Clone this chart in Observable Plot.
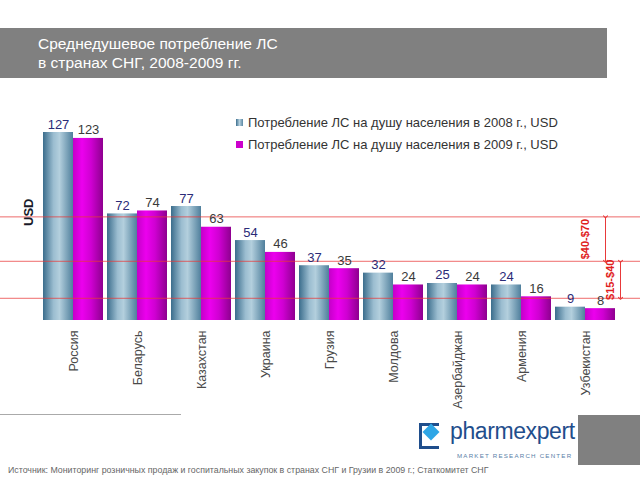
<!DOCTYPE html>
<html><head><meta charset="utf-8">
<script src="https://cdn.jsdelivr.net/npm/d3@7"></script>
<script src="https://cdn.jsdelivr.net/npm/@observablehq/plot@0.6"></script>
<style>
body{margin:0;background:#fff;font-family:"Liberation Sans",Arial,sans-serif;}
#page{position:relative;width:640px;height:480px;overflow:hidden;}
.abs{position:absolute;}
#header{left:0;top:28px;width:607px;height:50px;background:#808080;color:#fff;font-size:15.5px;line-height:19px;padding:6px 0 0 38px;box-sizing:border-box;}
#chart{left:0;top:90px;}
.leg{font-size:13px;color:#333;white-space:nowrap;}
.sw{display:inline-block;width:7px;height:7px;margin-right:5px;vertical-align:1px;}
</style></head>
<body><div id="page">
<div id="header" class="abs">Среднедушевое потребление ЛС<br>в странах СНГ, 2008-2009 гг.</div>
<div id="chart" class="abs"></div>
<div class="abs leg" style="left:236px;top:115px;"><span class="sw" style="background:linear-gradient(90deg,#3d6f8e,#b5d0de,#5a88a4)"></span>Потребление ЛС на душу населения в 2008 г., USD</div>
<div class="abs leg" style="left:236px;top:137px;"><span class="sw" style="background:#cc00cc"></span>Потребление ЛС на душу населения в 2009 г., USD</div>
<div class="abs" style="left:19px;top:206px;width:20px;height:20px;font-size:13px;font-weight:bold;color:#1a1a2a;transform:rotate(-90deg);transform-origin:10px 10px;line-height:20px;">USD</div>
<div class="abs" style="left:0;top:414px;width:181px;height:1px;background:#aaa;"></div>
<div class="abs" style="left:578px;top:415px;width:62px;height:50px;background:#808080;"></div>
<div class="abs" style="left:419px;top:423px;width:17px;height:20px;border:3px solid #1f4e8c;border-right:none;"></div>
<div class="abs" style="left:425px;top:426px;width:12px;height:12px;background:#2ea6e6;transform:rotate(45deg);"></div>
<div class="abs" style="left:450px;top:418px;font-size:23px;color:#1f4e8c;letter-spacing:-0.4px;">pharmexpert</div>
<div class="abs" style="left:457px;top:452px;font-size:6.2px;color:#5a7fa8;letter-spacing:1.2px;white-space:nowrap;">MARKET RESEARCH CENTER</div>
<div class="abs" style="left:8px;top:465px;font-size:8.8px;color:#666;white-space:nowrap;">Источник: Мониторинг розничных продаж и госпитальных закупок в странах СНГ и Грузии в 2009 г.; Статкомитет СНГ</div>
</div>
<script>
const countries = ["Россия","Беларусь","Казахстан","Украина","Грузия","Молдова","Азербайджан","Армения","Узбекистан"];
const v2008 = [127,72,77,54,37,32,25,24,9];
const v2009 = [123,74,63,46,35,24,24,16,8];
const refLines = [70,40,15];
const ranges = [
  {lo:40, hi:70, label:"$40-$70"},
  {lo:15, hi:40, label:"$15-$40"}
];

const data = countries.map((c,i)=>({country:c, v2008:v2008[i], v2009:v2009[i]}));
const last = countries[countries.length-1];

const plot = Plot.plot({
  width: 640,
  height: 330,
  marginLeft: 0, marginRight: 0, marginTop: 10, marginBottom: 100,
  style: {fontFamily: '"Liberation Sans", Arial, sans-serif', background: "transparent", overflow: "visible"},
  x: {domain: countries, range: [41, 617], paddingInner: 0.07, paddingOuter: 0, axis: null},
  y: {domain: [0, 127], range: [230, 42], axis: null},
  marks: [
    Plot.barY(data, {x: "country", y: "v2008", insetRight: 30, fill: "url(#g2008)"}),
    Plot.barY(data, {x: "country", y: "v2009", insetLeft: 30, fill: "url(#g2009)"}),
    Plot.ruleY(refLines, {stroke: "#e8393a", strokeOpacity: 0.75, strokeWidth: 1}),
    Plot.text(data, {x: "country", y: "v2008", text: d => String(d.v2008), dx: -15, dy: -4, lineAnchor: "bottom", fontSize: 13, fill: "#2b2b78"}),
    Plot.text(data, {x: "country", y: "v2009", text: d => String(d.v2009), dx: 15, dy: -4, lineAnchor: "bottom", fontSize: 13, fill: "#3a3a3a"}),
    Plot.axisX({domain: countries, anchor: "bottom", tickSize: 0, tickPadding: 10, tickRotate: -90, textAnchor: "end", fontSize: 12.5, fill: "#4a4a4a", label: null}),
    ...ranges.map((r, i) => Plot.link([r], {x1: () => last, x2: () => last, y1: "hi", y2: "lo", dx: 20 + 15*i, stroke: "#e8393a", strokeWidth: 1, markerStart: "arrow", markerEnd: "arrow"})),
    ...ranges.map((r, i) => Plot.text([r], {x: () => last, y: d => (d.lo + d.hi) / 2, text: "label", rotate: -90, dx: 25*i, fontSize: 11, fontWeight: "bold", fill: "#e02020"}))
  ]
});

const svg = d3.select(plot);
const defs = svg.insert("defs", ":first-child");
const g1 = defs.append("linearGradient").attr("id", "g2008").attr("x1", "0").attr("x2", "1").attr("y1", "0").attr("y2", "0");
[[0,"#3b6d8c"],[0.35,"#9bbdd0"],[0.55,"#b3cfdd"],[1,"#4f7f9c"]].forEach(([o,c]) => g1.append("stop").attr("offset", o).attr("stop-color", c));
const g2 = defs.append("linearGradient").attr("id", "g2009").attr("x1", "0").attr("x2", "1").attr("y1", "0").attr("y2", "0");
[[0,"#c400c8"],[0.3,"#ec00ee"],[0.6,"#cf00d2"],[1,"#8e008f"]].forEach(([o,c]) => g2.append("stop").attr("offset", o).attr("stop-color", c));

document.getElementById("chart").appendChild(plot);
</script>
</body></html>
